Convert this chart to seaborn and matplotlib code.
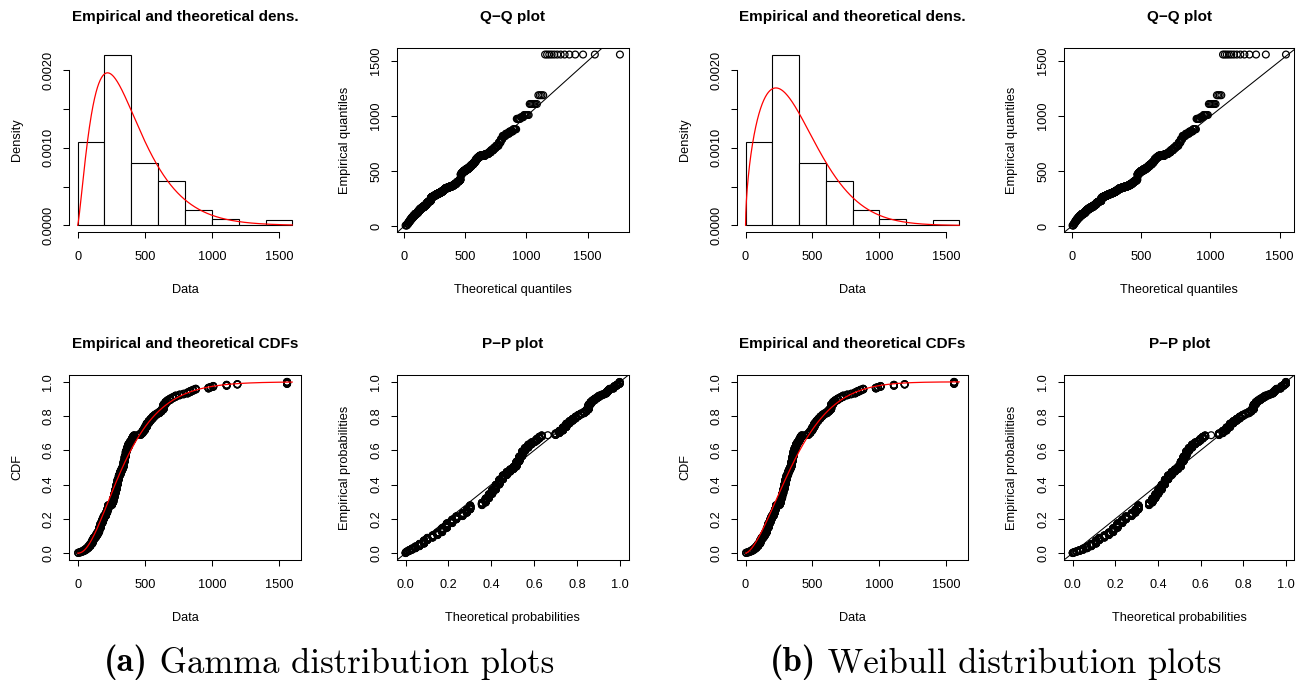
import math
import numpy as np
import matplotlib
matplotlib.use('Agg')
import matplotlib.pyplot as plt
from matplotlib.text import Annotation
import seaborn as sns

values = [5, 20, 35, 50, 65, 80, 95, 110, 120, 135, 148, 160, 172, 185, 195,
          210, 220, 228, 256, 265, 273, 281, 290, 299, 308, 318, 327, 336, 344, 352,
          360, 368, 378, 388, 398,
          404, 412, 420, 441, 470, 485, 500, 515, 530, 545, 560, 575, 590,
          610, 625, 640, 655, 670, 690, 710, 730, 760, 790,
          820, 840, 860, 880, 975, 990,
          1010, 1110, 1190, 1560]
counts = [3, 4, 5, 7, 9, 12, 15, 20, 15, 15, 17, 25, 28, 22, 19,
          19, 20, 25, 15, 25, 25, 25, 30, 30, 25, 20, 15, 15, 30, 30,
          30, 20, 20, 13, 8,
          12, 12, 8, 1, 11, 15, 20, 22, 15, 13, 13, 10, 8,
          10, 12, 30, 15, 10, 10, 8, 9, 6, 5,
          8, 8, 7, 6, 6, 4,
          6, 7, 4, 13]
hist_breaks = [0, 200, 400, 600, 800, 1000, 1200, 1400, 1600]

# fitted parameters
gamma_shape = 2.36
gamma_rate = 0.00610
weibull_shape = 1.58
weibull_scale = 428.0

caption_tags = ['(a)', '(b)']
caption_texts = [' Gamma distribution plots', ' Weibull distribution plots']

sns.set_theme(style='ticks')
plt.rcParams['font.family'] = ['Liberation Sans', 'DejaVu Sans']
plt.rcParams.update({
    'text.color': 'black',
    'axes.titlecolor': 'black',
    'axes.linewidth': 0.75,
    'axes.edgecolor': 'black',
    'axes.labelcolor': 'black',
    'axes.labelsize': 9.2,
    'xtick.labelsize': 9.2,
    'ytick.labelsize': 9.2,
    'xtick.color': 'black',
    'ytick.color': 'black',
    'xtick.major.width': 0.75,
    'ytick.major.width': 0.75,
    'xtick.major.size': 4.5,
    'ytick.major.size': 4.5,
    'xtick.major.pad': 9,
    'ytick.major.pad': 6,
})

data = np.repeat(values, counts).astype(float)
n = len(data)
ppts = (np.arange(1, n + 1) - 0.5) / n
ecdf_y = np.arange(1, n + 1) / n


def gamma_pdf(x):
    x = np.asarray(x, float)
    out = np.zeros_like(x)
    pos = x > 0
    out[pos] = np.exp(gamma_shape * np.log(gamma_rate) + (gamma_shape - 1) * np.log(x[pos])
                      - gamma_rate * x[pos] - math.lgamma(gamma_shape))
    return out


def gamma_cdf(x):
    z = gamma_rate * np.asarray(x, float)
    term = np.ones_like(z) / gamma_shape
    total = term.copy()
    for k in range(1, 400):
        term = term * z / (gamma_shape + k)
        total += term
    return np.exp(gamma_shape * np.log(np.maximum(z, 1e-300)) - z - math.lgamma(gamma_shape)) * total


def gamma_ppf(p):
    grid = np.arange(0, 4000, 0.25)
    return np.interp(p, gamma_cdf(grid), grid)


def weibull_pdf(x):
    x = np.asarray(x, float)
    u = x / weibull_scale
    return (weibull_shape / weibull_scale) * u ** (weibull_shape - 1) * np.exp(-u ** weibull_shape)


def weibull_cdf(x):
    return 1 - np.exp(-(np.asarray(x, float) / weibull_scale) ** weibull_shape)


def weibull_ppf(p):
    return weibull_scale * (-np.log(1 - p)) ** (1 / weibull_shape)


W, H = 1304, 687
fig = plt.figure(figsize=(W / 100, H / 100), dpi=100)


def add_box(left, top, right, bottom):
    return fig.add_axes([left / W, 1 - bottom / H, (right - left) / W, (bottom - top) / H])


cols = [(69, 301), (397, 628.5), (737, 968), (1064, 1294.5)]
rows = [(47.7, 232.3), (375, 560)]
curve_x = np.linspace(0, 1600, 801)
pt_kw = dict(marker='o', facecolor='none', edgecolor='black', linewidth=0.9, s=24, zorder=3)
title_kw = dict(fontsize=11, fontweight='bold', pad=19.5)


def finish(ax, title, xlabel, ylabel):
    ax.set_title(title, **title_kw)
    ax.set_xlabel(xlabel, labelpad=15)
    ax.set_ylabel(ylabel, labelpad=14)
    ax.tick_params(axis='y', labelrotation=90)
    for lab in ax.get_yticklabels():
        lab.set_verticalalignment('center')


def dens_panel(ax, pdf):
    sns.histplot(x=data, bins=hist_breaks, stat='density', ax=ax, color='white',
                 edgecolor='black', linewidth=0.8, alpha=1)
    sns.lineplot(x=curve_x, y=pdf(curve_x), ax=ax, color='red', lw=0.9,
                 estimator=None, sort=False)
    ymax = np.histogram(data, bins=hist_breaks, density=True)[0].max()
    ax.set_xlim(-64, 1664)
    ax.set_ylim(-0.04 * ymax, 1.04 * ymax)
    for s in ['top', 'right']:
        ax.spines[s].set_visible(False)
    ax.spines['left'].set_bounds(0, 0.002)
    ax.spines['bottom'].set_bounds(0, 1500)
    ax.set_xticks([0, 500, 1000, 1500])
    ax.set_yticks([0, 0.0005, 0.001, 0.0015, 0.002])
    ax.set_yticklabels(['0.0000', '', '0.0010', '', '0.0020'])
    finish(ax, 'Empirical and theoretical dens.', 'Data', 'Density')


def qq_panel(ax, ppf):
    theo = ppf(ppts)
    sns.scatterplot(x=theo, y=data, ax=ax, **pt_kw)
    ax.axline((0, 0), slope=1, color='black', lw=0.75)
    pad = 0.04 * (theo.max() - theo.min())
    ax.set_xlim(theo.min() - pad, theo.max() + pad)
    pad = 0.04 * (data.max() - data.min())
    ax.set_ylim(data.min() - pad, data.max() + pad)
    ax.set_xticks([0, 500, 1000, 1500])
    ax.set_yticks([0, 500, 1000, 1500])
    finish(ax, 'Q\u2212Q plot', 'Theoretical quantiles', 'Empirical quantiles')


def cdf_panel(ax, cdf):
    sns.scatterplot(x=data, y=ecdf_y, ax=ax, **pt_kw)
    sns.lineplot(x=curve_x, y=cdf(curve_x), ax=ax, color='red', lw=0.9,
                 estimator=None, sort=False, zorder=4)
    ax.set_xlim(-64, 1664)
    ax.set_ylim(-0.04, 1.04)
    ax.set_xticks([0, 500, 1000, 1500])
    ax.set_yticks(np.arange(0, 1.01, 0.2))
    ax.set_yticklabels(['0.0', '0.2', '0.4', '0.6', '0.8', '1.0'])
    finish(ax, 'Empirical and theoretical CDFs', 'Data', 'CDF')


def pp_panel(ax, cdf):
    sns.scatterplot(x=cdf(data), y=ppts, ax=ax, **pt_kw)
    ax.axline((0, 0), slope=1, color='black', lw=0.75)
    ax.set_xlim(-0.04, 1.04)
    ax.set_ylim(-0.04, 1.04)
    ticks = np.arange(0, 1.01, 0.2)
    labs = ['0.0', '0.2', '0.4', '0.6', '0.8', '1.0']
    ax.set_xticks(ticks)
    ax.set_xticklabels(labs)
    ax.set_yticks(ticks)
    ax.set_yticklabels(labs)
    finish(ax, 'P\u2212P plot', 'Theoretical probabilities', 'Empirical probabilities')


dists = [(gamma_pdf, gamma_cdf, gamma_ppf), (weibull_pdf, weibull_cdf, weibull_ppf)]
for i, (pdf, cdf, ppf) in enumerate(dists):
    c1, c2 = cols[2 * i], cols[2 * i + 1]
    dens_panel(add_box(c1[0], rows[0][0], c1[1], rows[0][1]), pdf)
    qq_panel(add_box(c2[0], rows[0][0], c2[1], rows[0][1]), ppf)
    cdf_panel(add_box(c1[0], rows[1][0], c1[1], rows[1][1]), cdf)
    pp_panel(add_box(c2[0], rows[1][0], c2[1], rows[1][1]), cdf)

# sub-captions: bold tag followed by roman text, laid out left to right
for tag, txt, x0 in zip(caption_tags, caption_texts, [104, 770]):
    t = fig.text(x0 / W, 1 - 671 / H, tag, family='cmb10', fontsize=25,
                 ha='left', va='baseline', color='black')
    fig.add_artist(Annotation(txt, xy=(1, 0), xycoords=t, ha='left', va='bottom',
                              family='cmr10', fontsize=25, color='black'))

fig.savefig('out.png', dpi=100, facecolor='white')
